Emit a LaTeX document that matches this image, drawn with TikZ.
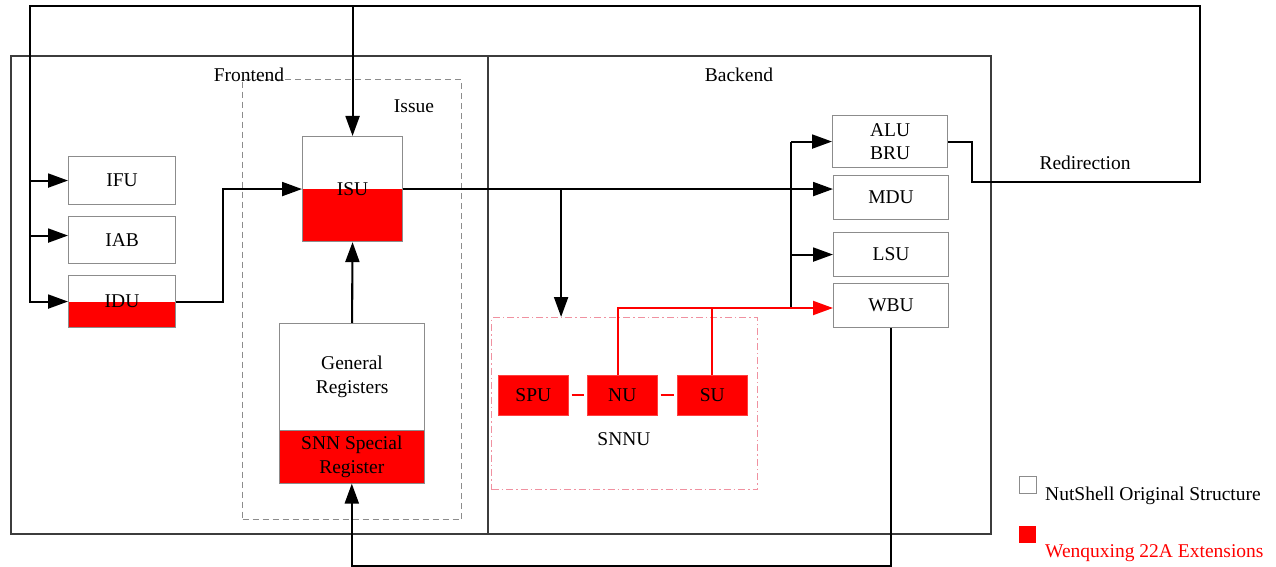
\documentclass[tikz,border=0pt]{standalone}
\usepackage{fontspec}
\setmainfont{Liberation Serif}
\usetikzlibrary{arrows.meta}
\definecolor{boxgray}{RGB}{140,140,140}
\definecolor{framegray}{RGB}{60,60,60}
\definecolor{dashgray}{RGB}{140,140,140}
\definecolor{snnpink}{RGB}{240,145,160}
\begin{document}
\begin{tikzpicture}[x=1pt,y=-1pt,
  font=\fontsize{19.5}{23.5}\selectfont,
  box/.style={draw=boxgray, line width=1.1pt, fill=white, anchor=north west, inner sep=0pt, align=center},
  redbox/.style={draw=red!75!white, line width=0.6pt, fill=red, anchor=north west, inner sep=0pt, align=center},
  halfred/.style={path picture={\fill[red] (path picture bounding box.south west) rectangle (path picture bounding box.east);}},
  frame/.style={draw=framegray, line width=1.8pt, anchor=north west, inner sep=0pt},
  conn/.style={line width=2.1pt, black},
  arr/.style={conn, -{Triangle[length=20pt,width=14pt]}},
  redline/.style={line width=2pt, red},
  redarr/.style={redline, -{Triangle[length=20pt,width=14pt]}},
  lbl/.style={inner sep=0pt}
]
\useasboundingbox (0,0) rectangle (1276,567);

% containers
\node[frame, minimum width=477pt, minimum height=478pt] (front) at (10,55) {};
\node[frame, minimum width=503pt, minimum height=478pt] (back) at (487,55) {};
\node[draw=dashgray, line width=1.1pt, dash pattern=on 6pt off 4pt, anchor=north west, inner sep=0pt,
      minimum width=219pt, minimum height=440pt] (issue) at (242,79) {};
\node[draw=snnpink, line width=1.1pt, dash pattern=on 7pt off 3pt on 1.5pt off 3pt, anchor=north west, inner sep=0pt,
      minimum width=266pt, minimum height=172pt] (snnu) at (491,317) {};

% labels
\node[lbl] (lfront) at (249,75) {Frontend};
\node[lbl] (lback) at (739,75) {Backend};
\node[lbl] (lissue) at (414,106) {Issue};
\node[lbl] (lsnnu) at (624,439) {SNNU};
\node[lbl] (lredir) at (1085,163) {Redirection};

% frontend units
\node[box, minimum width=107pt, minimum height=48pt] (ifu) at (68,156) {IFU};
\node[box, minimum width=107pt, minimum height=47pt] (iab) at (68,216) {IAB};
\node[box, halfred, minimum width=107pt, minimum height=52pt] (idu) at (68,275) {IDU};
\node[box, halfred, minimum width=100pt, minimum height=105pt] (isu) at (302,136) {ISU};
\node[box, minimum width=145pt, minimum height=107pt] (gen) at (279,323) {General\\Registers};
\node[redbox, draw=boxgray, minimum width=145pt, minimum height=53pt] (snn) at (279,430) {SNN Special\\Register};

% backend units
\node[box, minimum width=115pt, minimum height=52pt] (alu) at (832,115) {ALU\\BRU};
\node[box, minimum width=115pt, minimum height=44pt] (mdu) at (833,175) {MDU};
\node[box, minimum width=115pt, minimum height=44pt] (lsu) at (833,232) {LSU};
\node[box, minimum width=115pt, minimum height=44pt] (wbu) at (833,283) {WBU};

\node[redbox, minimum width=70pt, minimum height=40pt] (spu) at (498,375) {SPU};
\node[redbox, minimum width=70pt, minimum height=40pt] (nu) at (587,375) {NU};
\node[redbox, minimum width=70pt, minimum height=40pt] (su) at (677,375) {SU};

% redirection loop
\coordinate (tl) at (30,6);
\coordinate (tr) at (1200,6);
\coordinate (rd) at (1200,182);
\coordinate (aj) at (972,182);
\draw[arr] (alu.east) -- (alu.east -| aj) -- (aj) -- (rd) -- (tr) -- (tl) -- (tl |- idu.west) -- (idu.west);
\draw[arr] (tl |- ifu.west) -- (ifu.west);
\draw[arr] ([yshift=4.5pt]iab.west -| tl) -- ([yshift=4.5pt]iab.west);
\draw[arr] (isu.north |- tl) -- (isu.north);

% frontend flow
\draw[arr] (idu.east) -- ([xshift=47pt]idu.east) |- (isu.west);
\draw[arr] (gen.north) -- (isu.south);

% issue to backend
\draw[arr] (isu.east) -- (isu.east -| mdu.west);
\draw[arr] ([xshift=158pt]isu.east) -- ([xshift=158pt]isu.east |- snnu.north);
\coordinate (bus) at (791,308);
\draw[conn] (bus |- alu.west) -- (bus);
\draw[arr] (bus |- alu.west) -- (alu.west);
\draw[arr] (bus |- lsu.west) -- (lsu.west);

% SNNU internals
\draw[redline, shorten <=3pt, shorten >=3pt] (spu.east) -- (nu.west);
\draw[redline, shorten <=3pt, shorten >=3pt] (nu.east) -- (su.west);
\draw[redarr] ([xshift=-4pt]nu.north) -- ([xshift=-4pt]nu.north |- bus) -- (wbu.west |- bus);
\draw[redline] (su.north) -- (su.north |- bus);

% writeback
\draw[arr] (wbu.south) -- ([yshift=-238pt]wbu.south) -| (snn.south);

% legend
\node[draw=boxgray, fill=white, line width=1.1pt, minimum size=17pt, inner sep=0pt, anchor=north west] (lg1) at (1019,476) {};
\node[lbl, anchor=west] (lt1) at (1045,496) {NutShell Original Structure};
\node[fill=red, minimum size=17pt, inner sep=0pt, anchor=north west] (lg2) at (1019,526) {};
\node[lbl, anchor=west, text=red] (lt2) at (1045,553) {Wenquxing 22A Extensions};
\end{tikzpicture}
\end{document}
